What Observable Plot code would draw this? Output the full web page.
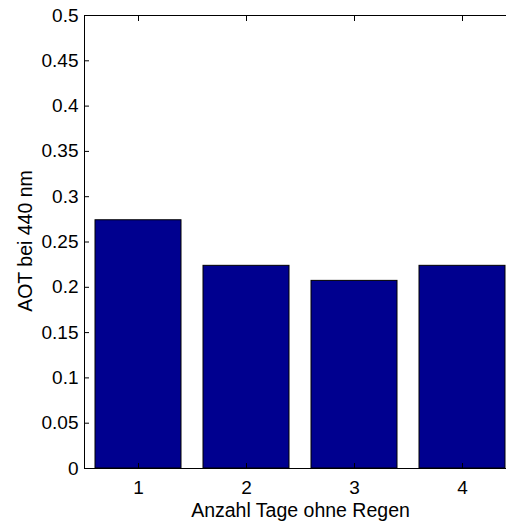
<!DOCTYPE html>
<html>
<head>
<meta charset="utf-8">
<script src="https://cdn.jsdelivr.net/npm/d3@7"></script>
<script src="https://cdn.jsdelivr.net/npm/@observablehq/plot@0.6"></script>
<style>
  html, body { margin: 0; padding: 0; background: white; overflow: hidden; }
  #chart svg { display: block; background: white; }
</style>
</head>
<body>
<div id="chart"></div>
<script>
const days = [1, 2, 3, 4];
const aot = [0.274, 0.2237, 0.2071, 0.2237];
const yTicks = [0, 0.05, 0.1, 0.15, 0.2, 0.25, 0.3, 0.35, 0.4, 0.45, 0.5];
const xLabel = "Anzahl Tage ohne Regen";
const yLabel = "AOT bei 440 nm";

const data = days.map((d, i) => ({day: d, aot: aot[i]}));
const font = "'Liberation Sans', Arial, Helvetica, sans-serif";

const chart = Plot.plot({
  width: 506,
  height: 523,
  marginLeft: 84,
  marginRight: -10,
  marginTop: 15,
  marginBottom: 55,
  style: {fontFamily: font, fontSize: "19px", color: "black", background: "white", overflow: "hidden"},
  x: {type: "band", domain: days, range: [84, 516], paddingInner: 0.2, paddingOuter: 0.1, label: null},
  y: {domain: [0, 0.5], range: [468, 15], label: null},
  marks: [
    Plot.barY(data, {x: "day", y: "aot", fill: "#00008f", stroke: "black", strokeWidth: 1}),
    Plot.ruleY([0], {stroke: "black"}),
    Plot.ruleY([0.5], {stroke: "black"}),
    Plot.frame({anchor: "left", stroke: "black"}),
    Plot.axisY(yTicks, {tickSize: -5, fill: "none", label: null}),
    Plot.axisY(yTicks, {tickSize: 0, tickPadding: 6, tickFormat: d => String(d), fontSize: 19, label: null}),
    Plot.axisX({tickSize: -5, fill: "none", label: null}),
    Plot.axisX({anchor: "top", tickSize: -5, fill: "none", label: null}),
    Plot.axisX({tickSize: 0, tickPadding: 12, fontSize: 19, label: null}),
    Plot.text([xLabel], {text: d => d, frameAnchor: "bottom", lineAnchor: "bottom", textAnchor: "middle", dy: 48, fontSize: 19.5, fill: "black"}),
    Plot.text([yLabel], {text: d => d, frameAnchor: "left", lineAnchor: "bottom", textAnchor: "middle", rotate: -90, dx: -53, dy: -1, fontSize: 19.5, fill: "black"})
  ]
});
document.getElementById("chart").appendChild(chart);
</script>
</body>
</html>
